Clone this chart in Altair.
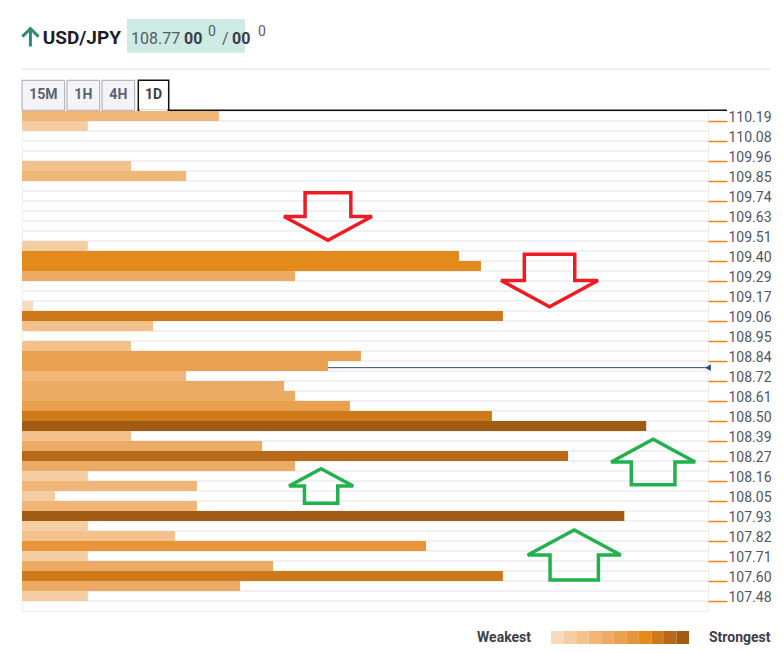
import json
import altair as alt
import pandas as pd

# ---------------- data ----------------
tick_labels = ["110.19", "110.08", "109.96", "109.85", "109.74", "109.63", "109.51",
               "109.40", "109.29", "109.17", "109.06", "108.95", "108.84", "108.72",
               "108.61", "108.50", "108.39", "108.27", "108.16", "108.05", "107.93",
               "107.82", "107.71", "107.60", "107.48"]

# bar length of each price row (percent of plot width), top row first
strength = [28.7, 9.6, 0, 0, 0, 15.9, 23.9, 0, 0, 0,
            0, 0, 0, 9.6, 63.7, 66.9, 39.8, 0, 0, 1.6,
            70.1, 19.1, 0, 15.9, 49.4, 44.6, 23.9, 38.2, 39.8, 47.8,
            68.5, 91.0, 15.9, 35.0, 79.6, 39.8, 9.6, 25.5, 4.8, 25.5,
            87.8, 9.6, 22.3, 58.9, 9.6, 36.6, 70.1, 31.8, 9.6, 0]
# colour level of each row (1 = weakest, 11 = strongest)
level = [4, 2, 0, 0, 0, 3, 4, 0, 0, 0,
         0, 0, 0, 2, 8, 8, 5, 0, 0, 1,
         9, 3, 0, 3, 6, 6, 4, 5, 5, 6,
         9, 11, 3, 5, 10, 5, 2, 4, 2, 4,
         11, 2, 3, 7, 2, 5, 9, 5, 2, 0]

legend_colors = ["#f8dbbd", "#f5cda2", "#f2c18c", "#efb677", "#ecab64", "#e9a04f",
                 "#e8953a", "#e38a1d", "#cd7919", "#b66a18", "#a05c13"]

current_price = 108.77

# hand-drawn annotation arrows (x in % of width, y in rows, w = width in px)
red_x = [44.6, 76.9]
red_y = [10.55, 16.95]
red_w = [88, 97]
green_x = [43.6, 92.0, 80.5]
green_y = [37.5, 35.1, 44.4]
green_w = [64, 84, 93]

# ---------------- tables ----------------
N = len(strength)
bars = pd.DataFrame({
    "top": list(range(N)),
    "bottom": [r + 1 for r in range(N)],
    "x0": [0] * N,
    "x1": strength,
    "level": level,
})
bars = bars[bars["x1"] > 0]

stripes = pd.DataFrame({"top": list(range(1, N))})

# each label names the price of row 2*i (its centre); locate the current price among rows
vals = [float(v) for v in tick_labels]
pos = None
for i in range(len(vals) - 1):
    if vals[i] >= current_price >= vals[i + 1]:
        pos = 2 * i + 0.5 + (vals[i] - current_price) / (vals[i] - vals[i + 1]) * 2
        break
price_df = pd.DataFrame({"top": [pos], "x0": [100]})

PXW = 686.0
leg = pd.DataFrame({
    "x0": [(529 + i * 12.55) / PXW * 100 for i in range(11)],
    "x1": [(529 + (i + 1) * 12.55) / PXW * 100 for i in range(11)],
    "top": [52.0] * 11,
    "bottom": [53.3] * 11,
    "level": list(range(1, 12)),
})

red = pd.DataFrame({"x0": red_x, "top": red_y, "s": [w * w for w in red_w]})
green = pd.DataFrame({"x0": green_x, "top": green_y, "s": [w * w for w in green_w]})

one = pd.DataFrame({"a": [0]})

# ---------------- scales / axes ----------------
xs = alt.Scale(domain=[0, 100], nice=False, zero=False)
ys = alt.Scale(domain=[0, N], reverse=True, nice=False, zero=False)
label_expr = json.dumps(tick_labels) + "[round((datum.value - 1) / 2)]"
yax = alt.Axis(orient="right", values=list(range(1, N, 2)), labelExpr=label_expr,
               tickSize=19, tickColor="#e8850c", tickWidth=1.5, domain=False, grid=False,
               labelPadding=1, labelBaseline="alphabetic", labelFont="Roboto",
               labelFontSize=14, labelColor="#505563", labelAlign="left", title=None)
cscale = alt.Scale(domain=list(range(1, 12)), range=legend_colors)

X = lambda f: alt.X(f, type="quantitative", scale=xs, axis=None)
Y = lambda f: alt.Y(f, type="quantitative", scale=ys, axis=yax)

stripe_layer = alt.Chart(stripes).mark_rule(color="#f0f0f5", strokeWidth=2).encode(
    y=Y("top"), x=alt.value(0), x2=alt.value(686))

price_line = alt.Chart(price_df).mark_rule(color="#2e4a78", strokeWidth=1).encode(
    y=Y("top"), x=alt.value(0), x2=alt.value(686))

bar_layer = alt.Chart(bars).mark_rect().encode(
    x=X("x0"), x2="x1", y=Y("top"), y2="bottom",
    color=alt.Color("level:O", scale=cscale, legend=None))

price_mark = alt.Chart(price_df).mark_point(shape="triangle-left", filled=True, size=45,
                                            color="#2e4a78", opacity=1).encode(
    x=X("x0"), y=Y("top"))

down_path = "M-0.52,-0.54 L0.52,-0.54 L0.52,0 L1,0 L0,0.54 L-1,0 L-0.52,0 Z"
up_path = "M-0.52,0.54 L0.52,0.54 L0.52,0 L1,0 L0,-0.54 L-1,0 L-0.52,0 Z"

red_layer = alt.Chart(red).mark_point(shape=down_path, filled=False, stroke="#ed1c24",
                                      strokeWidth=3.5, opacity=1, strokeJoin="miter").encode(
    x=X("x0"), y=Y("top"), size=alt.Size("s:Q", scale=None))
green_layer = alt.Chart(green).mark_point(shape=up_path, filled=False, stroke="#22b14c",
                                          strokeWidth=3.5, opacity=1, strokeJoin="miter").encode(
    x=X("x0"), y=Y("top"), size=alt.Size("s:Q", scale=None))

leg_layer = alt.Chart(leg).mark_rect().encode(
    x=X("x0"), x2="x1", y=Y("top"), y2="bottom",
    color=alt.Color("level:O", scale=cscale, legend=None))


def txt(s, x, y, size, weight="normal", color="#333333", align="left", baseline="alphabetic"):
    return alt.Chart(one).mark_text(text=s, align=align, baseline=baseline, fontSize=size,
                                    fontWeight=weight, color=color, font="Roboto").encode(
        x=alt.value(x), y=alt.value(y))


def rect(x0, x1, y0, y1, fill, stroke=None, sw=1):
    kw = dict(fill=fill)
    if stroke:
        kw.update(stroke=stroke, strokeWidth=sw)
    return alt.Chart(one).mark_rect(**kw).encode(
        x=alt.value(x0), x2=alt.value(x1), y=alt.value(y0), y2=alt.value(y1))


def rule(x0, x1, y, color, sw=1):
    return alt.Chart(one).mark_rule(color=color, strokeWidth=sw).encode(
        x=alt.value(x0), x2=alt.value(x1), y=alt.value(y))


chrome = [
    rule(0, 748, -42, "#ebebee", 1.5),
    rect(0, 42.7, -30.7, -0.7, "#f3f3f8", "#a8a8b0", 1),
    rect(45, 77.7, -30.7, -0.7, "#f3f3f8", "#a8a8b0", 1),
    rect(80, 112.7, -30.7, -0.7, "#f3f3f8", "#a8a8b0", 1),
    rect(116.3, 146.7, -30.7, -0.7, "#ffffff", "#111111", 1.5),
    rule(146.7, 705, -0.7, "#111111", 1.5),
    rule(117.5, 145.5, -0.7, "#ffffff", 2),
    txt("15M", 21.3, -16.2, 14, "bold", "#5d6170", "center", "middle"),
    txt("1H", 61.3, -16.2, 14, "bold", "#5d6170", "center", "middle"),
    txt("4H", 96.3, -16.2, 14, "bold", "#5d6170", "center", "middle"),
    txt("1D", 131.5, -16.2, 14, "bold", "#3c3f4c", "center", "middle"),
    alt.Chart(one).mark_point(shape="M0,1 L0,-1 M-0.9,-0.1 L0,-1 L0.9,-0.1", filled=False,
                              stroke="#2b8a78", strokeWidth=3, opacity=1, size=324).encode(
        x=alt.value(8.4), y=alt.value(-73.5)),
    txt("USD/JPY", 20.7, -66.7, 19, "bold", "#1d1d2b"),
    rect(105, 223, -92, -58.3, "#cdebe4"),
    txt("108.77", 109, -66.7, 16, "normal", "#555b66"),
    txt("00", 162, -66.7, 16, "bold", "#3a3d48"),
    txt("0", 186, -75, 14, "normal", "#555b66"),
    txt("/", 200, -66.7, 16, "normal", "#555b66"),
    txt("00", 210, -66.7, 16, "bold", "#3a3d48"),
    txt("0", 236, -75, 14, "normal", "#555b66"),
    txt("Weakest", 509, 526.5, 14, "bold", "#3d404c", "right", "middle"),
    txt("Strongest", 687, 526.5, 14, "bold", "#3d404c", "left", "middle"),
]

chart = alt.layer(
    *chrome, stripe_layer, price_line, bar_layer, price_mark, leg_layer, red_layer, green_layer
).properties(
    width=686, height=500,
    autosize=alt.AutoSizeParams(type="none"),
    padding={"left": 14, "top": 103, "right": 67, "bottom": 34},
    background="#ffffff",
).configure_view(stroke="#ebebf0", strokeWidth=1)

chart.save("out.html", embed_options={"renderer": "svg", "actions": False})
